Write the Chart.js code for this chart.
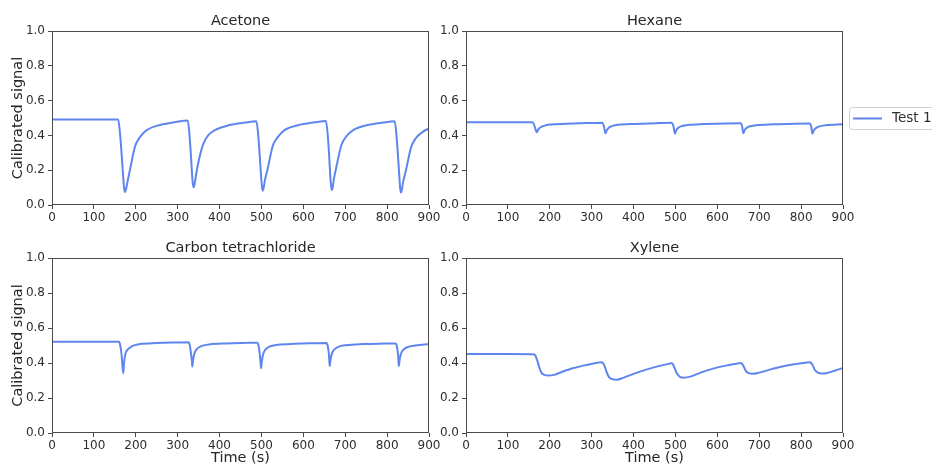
<!DOCTYPE html>
<html>
<head>
<meta charset="utf-8">
<script src="https://cdn.jsdelivr.net/npm/chart.js@4.4.1/dist/chart.umd.min.js"></script>
<style>
  html, body { margin: 0; padding: 0; background: #ffffff; }
  #wrap { position: relative; width: 932px; height: 467px; overflow: hidden; background: #ffffff; }
  #wrap canvas { position: absolute; left: 0; top: 0; }
</style>
</head>
<body>
<div id="wrap">
  <canvas id="c1" width="932" height="467"></canvas>
  <canvas id="c2" width="932" height="467"></canvas>
  <canvas id="c3" width="932" height="467"></canvas>
  <canvas id="c4" width="932" height="467"></canvas>
</div>
<script>
// ---------------- data ----------------
const panelTitles = ["Acetone", "Hexane", "Carbon tetrachloride", "Xylene"];
const seriesName = "Test 1";
const yAxisLabel = "Calibrated signal";
const xAxisLabel = "Time (s)";
const xTickValues = [0, 100, 200, 300, 400, 500, 600, 700, 800, 900];
const yTickValues = [0.0, 0.2, 0.4, 0.6, 0.8, 1.0];

const acetoneTime = [0, 50, 100, 158, 162, 166, 170, 172, 174, 176, 180, 186, 198, 210, 226, 258, 298, 324,
  328, 332, 334, 336, 338, 340, 343, 349, 361, 373, 389, 421, 461, 488,
  492, 496, 499, 501, 503, 505, 508, 515, 527, 539, 555, 587, 627, 654,
  658, 662, 664, 666, 668, 670, 673, 679, 691, 703, 719, 751, 791, 818,
  822, 826, 829, 831, 833, 835, 838, 845, 857, 869, 885, 900];
const acetoneSignal = [0.492, 0.492, 0.492, 0.491, 0.42, 0.30, 0.16, 0.10, 0.074, 0.085, 0.13, 0.20, 0.335, 0.39, 0.43, 0.46, 0.478, 0.485,
  0.41, 0.27, 0.19, 0.125, 0.102, 0.115, 0.16, 0.24, 0.35, 0.40, 0.43, 0.458, 0.474, 0.481,
  0.41, 0.28, 0.17, 0.11, 0.082, 0.095, 0.14, 0.21, 0.34, 0.39, 0.43, 0.458, 0.475, 0.483,
  0.41, 0.27, 0.18, 0.115, 0.085, 0.10, 0.15, 0.22, 0.345, 0.395, 0.43, 0.458, 0.474, 0.481,
  0.41, 0.28, 0.17, 0.10, 0.072, 0.085, 0.13, 0.20, 0.33, 0.385, 0.42, 0.44];

const hexaneTime = [0, 100, 158, 162, 166, 169, 172, 178, 186, 200, 240, 290, 325,
  329, 333, 336, 342, 350, 364, 404, 454, 490,
  495, 499, 502, 508, 516, 530, 570, 620, 655,
  659, 662, 665, 671, 679, 693, 733, 783, 820,
  824, 827, 830, 836, 844, 858, 900];
const hexaneSignal = [0.476, 0.476, 0.475, 0.465, 0.435, 0.418, 0.432, 0.447, 0.455, 0.462, 0.467, 0.471, 0.473,
  0.455, 0.412, 0.43, 0.446, 0.455, 0.461, 0.466, 0.47, 0.472,
  0.455, 0.41, 0.43, 0.446, 0.454, 0.46, 0.465, 0.469, 0.47,
  0.455, 0.412, 0.43, 0.445, 0.453, 0.459, 0.464, 0.467, 0.468,
  0.452, 0.41, 0.428, 0.443, 0.452, 0.458, 0.464];

const ccl4Time = [0, 100, 160, 163, 166, 168, 170, 172, 175, 180, 190, 210, 250, 300, 326,
  329, 332, 334, 335, 337, 340, 345, 355, 375, 415, 465, 490,
  493, 496, 498, 499, 501, 504, 509, 519, 539, 579, 629, 655,
  658, 661, 662, 663, 665, 668, 673, 683, 703, 743, 793, 820,
  823, 826, 827, 828, 830, 833, 838, 848, 868, 900];
const ccl4Signal = [0.522, 0.522, 0.521, 0.50, 0.45, 0.39, 0.342, 0.40, 0.45, 0.475, 0.495, 0.508, 0.514, 0.517, 0.518,
  0.50, 0.45, 0.41, 0.38, 0.42, 0.455, 0.478, 0.495, 0.506, 0.512, 0.515, 0.516,
  0.50, 0.45, 0.40, 0.37, 0.41, 0.45, 0.475, 0.493, 0.504, 0.51, 0.513, 0.514,
  0.50, 0.45, 0.415, 0.383, 0.42, 0.452, 0.475, 0.492, 0.502, 0.508, 0.511, 0.512,
  0.498, 0.45, 0.415, 0.383, 0.42, 0.452, 0.474, 0.49, 0.50, 0.508];

const xyleneTime = [0, 100, 160, 165, 170, 175, 180, 187, 197, 210, 230, 255, 280, 305, 322,
  327, 332, 337, 342, 350, 360, 375, 400, 430, 460, 480, 490,
  494, 499, 504, 510, 520, 535, 560, 590, 620, 645, 655,
  659, 663, 668, 675, 685, 700, 730, 760, 790, 810, 820,
  824, 828, 833, 840, 850, 862, 880, 900];
const xyleneSignal = [0.451, 0.451, 0.450, 0.445, 0.415, 0.375, 0.345, 0.332, 0.328, 0.332, 0.350, 0.370, 0.385, 0.397, 0.404,
  0.400, 0.375, 0.34, 0.318, 0.307, 0.305, 0.315, 0.338, 0.362, 0.382, 0.393, 0.398,
  0.392, 0.365, 0.338, 0.322, 0.316, 0.322, 0.345, 0.368, 0.385, 0.396, 0.400,
  0.396, 0.38, 0.355, 0.342, 0.338, 0.345, 0.365, 0.383, 0.395, 0.402, 0.405,
  0.40, 0.385, 0.36, 0.345, 0.340, 0.343, 0.356, 0.372];

// ---------------- styling / layout ----------------
const W = 932, H = 467;
const LINE_COLOR = "#5f86ee";
const SPINE = "#4a4a4a";
const TEXT = "#2e2e2e";
const FONT = "'DejaVu Sans', sans-serif";
const Y_AXIS_W = 52;
const TITLE_SIZE = 14.5;
const TITLE_BOX = TITLE_SIZE * 1.2 + 1.5;

const framePlugin = {
  id: "frame",
  afterDatasetsDraw(chart) {
    const a = chart.chartArea, ctx = chart.ctx;
    ctx.save();
    ctx.strokeStyle = SPINE;
    ctx.lineWidth = 1;
    ctx.strokeRect(Math.round(a.left) + 0.5, Math.round(a.top) + 0.5,
      Math.round(a.right - a.left) - 1, Math.round(a.bottom - a.top) - 1);
    ctx.restore();
  }
};

const legendPlugin = {
  id: "sideLegend",
  afterDraw(chart, args, opts) {
    if (!opts || !opts.show) return;
    const ctx = chart.ctx;
    const bx = 849.5, by = 107.5, bw = 100, bh = 22, r = 3;
    ctx.save();
    ctx.fillStyle = "rgba(255,255,255,0.9)";
    ctx.strokeStyle = "#d0d0d0";
    ctx.lineWidth = 1;
    ctx.beginPath();
    ctx.moveTo(bx + r, by);
    ctx.lineTo(bx + bw - r, by);
    ctx.arcTo(bx + bw, by, bx + bw, by + r, r);
    ctx.lineTo(bx + bw, by + bh - r);
    ctx.arcTo(bx + bw, by + bh, bx + bw - r, by + bh, r);
    ctx.lineTo(bx + r, by + bh);
    ctx.arcTo(bx, by + bh, bx, by + bh - r, r);
    ctx.lineTo(bx, by + r);
    ctx.arcTo(bx, by, bx + r, by, r);
    ctx.closePath();
    ctx.fill();
    ctx.stroke();
    ctx.strokeStyle = LINE_COLOR;
    ctx.lineWidth = 2;
    ctx.beginPath();
    ctx.moveTo(853, 118.5);
    ctx.lineTo(882, 118.5);
    ctx.stroke();
    ctx.fillStyle = TEXT;
    ctx.font = "13.5px " + FONT;
    ctx.textBaseline = "middle";
    ctx.textAlign = "left";
    ctx.fillText(seriesName, 892, 118.5);
    ctx.restore();
  }
};

function makePanel(id, title, times, values, box) {
  const xAxisH = box.showX ? (H - box.bottom) : 30;
  const padding = {
    left: box.left - Y_AXIS_W,
    right: W - box.right,
    top: box.top - TITLE_BOX,
    bottom: H - box.bottom - xAxisH
  };
  const pts = times.map((t, i) => ({ x: t, y: values[i] }));
  return new Chart(document.getElementById(id), {
    type: "line",
    data: {
      datasets: [{
        label: seriesName,
        data: pts,
        borderColor: LINE_COLOR,
        backgroundColor: LINE_COLOR,
        borderWidth: 2,
        pointRadius: 0,
        fill: false,
        cubicInterpolationMode: "monotone"
      }]
    },
    options: {
      responsive: false,
      animation: false,
      devicePixelRatio: 1,
      events: [],
      layout: { padding: padding },
      plugins: {
        legend: { display: false },
        tooltip: { enabled: false },
        title: {
          display: true,
          text: title,
          fullSize: false,
          color: "#262626",
          font: { family: FONT, size: TITLE_SIZE, weight: "normal" },
          padding: { top: 0, bottom: 1.5 }
        },
        sideLegend: { show: !!box.legend }
      },
      scales: {
        x: {
          type: "linear",
          min: 0, max: 900,
          afterBuildTicks(scale) { scale.ticks = xTickValues.map(v => ({ value: v })); },
          afterFit(scale) { scale.height = xAxisH; scale.paddingLeft = 0; scale.paddingRight = 0; },
          ticks: {
            color: TEXT, padding: 2, maxRotation: 0, autoSkip: false,
            font: { family: FONT, size: 12 },
            callback: v => String(v)
          },
          grid: { display: true, drawOnChartArea: false, drawTicks: true, tickLength: 4, tickColor: SPINE, tickWidth: 1 },
          border: { display: false },
          title: {
            display: !!box.showX, text: xAxisLabel, color: "#262626",
            font: { family: FONT, size: 14.5 }, padding: { top: 0, bottom: 0 }
          }
        },
        y: {
          type: "linear",
          min: 0, max: 1,
          afterBuildTicks(scale) { scale.ticks = yTickValues.map(v => ({ value: v })); },
          afterFit(scale) { scale.width = Y_AXIS_W; scale.paddingTop = 0; scale.paddingBottom = 0; },
          ticks: {
            color: TEXT, padding: 3, autoSkip: false,
            font: { family: FONT, size: 12 },
            callback: v => Number(v).toFixed(1)
          },
          grid: { display: true, drawOnChartArea: false, drawTicks: true, tickLength: 4, tickColor: SPINE, tickWidth: 1 },
          border: { display: false },
          title: {
            display: !!box.showY, text: yAxisLabel, color: "#262626",
            font: { family: FONT, size: 14.5 }, padding: { top: 10, bottom: 0 }
          }
        }
      }
    },
    plugins: [framePlugin, legendPlugin]
  });
}

makePanel("c1", panelTitles[0], acetoneTime, acetoneSignal, { left: 52, right: 429, top: 31, bottom: 205, showY: true, showX: false });
makePanel("c2", panelTitles[1], hexaneTime, hexaneSignal, { left: 466, right: 843, top: 31, bottom: 205, showY: false, showX: false, legend: true });
makePanel("c3", panelTitles[2], ccl4Time, ccl4Signal, { left: 52, right: 429, top: 258, bottom: 433, showY: true, showX: true });
makePanel("c4", panelTitles[3], xyleneTime, xyleneSignal, { left: 466, right: 843, top: 258, bottom: 433, showY: false, showX: true });
</script>
</body>
</html>
